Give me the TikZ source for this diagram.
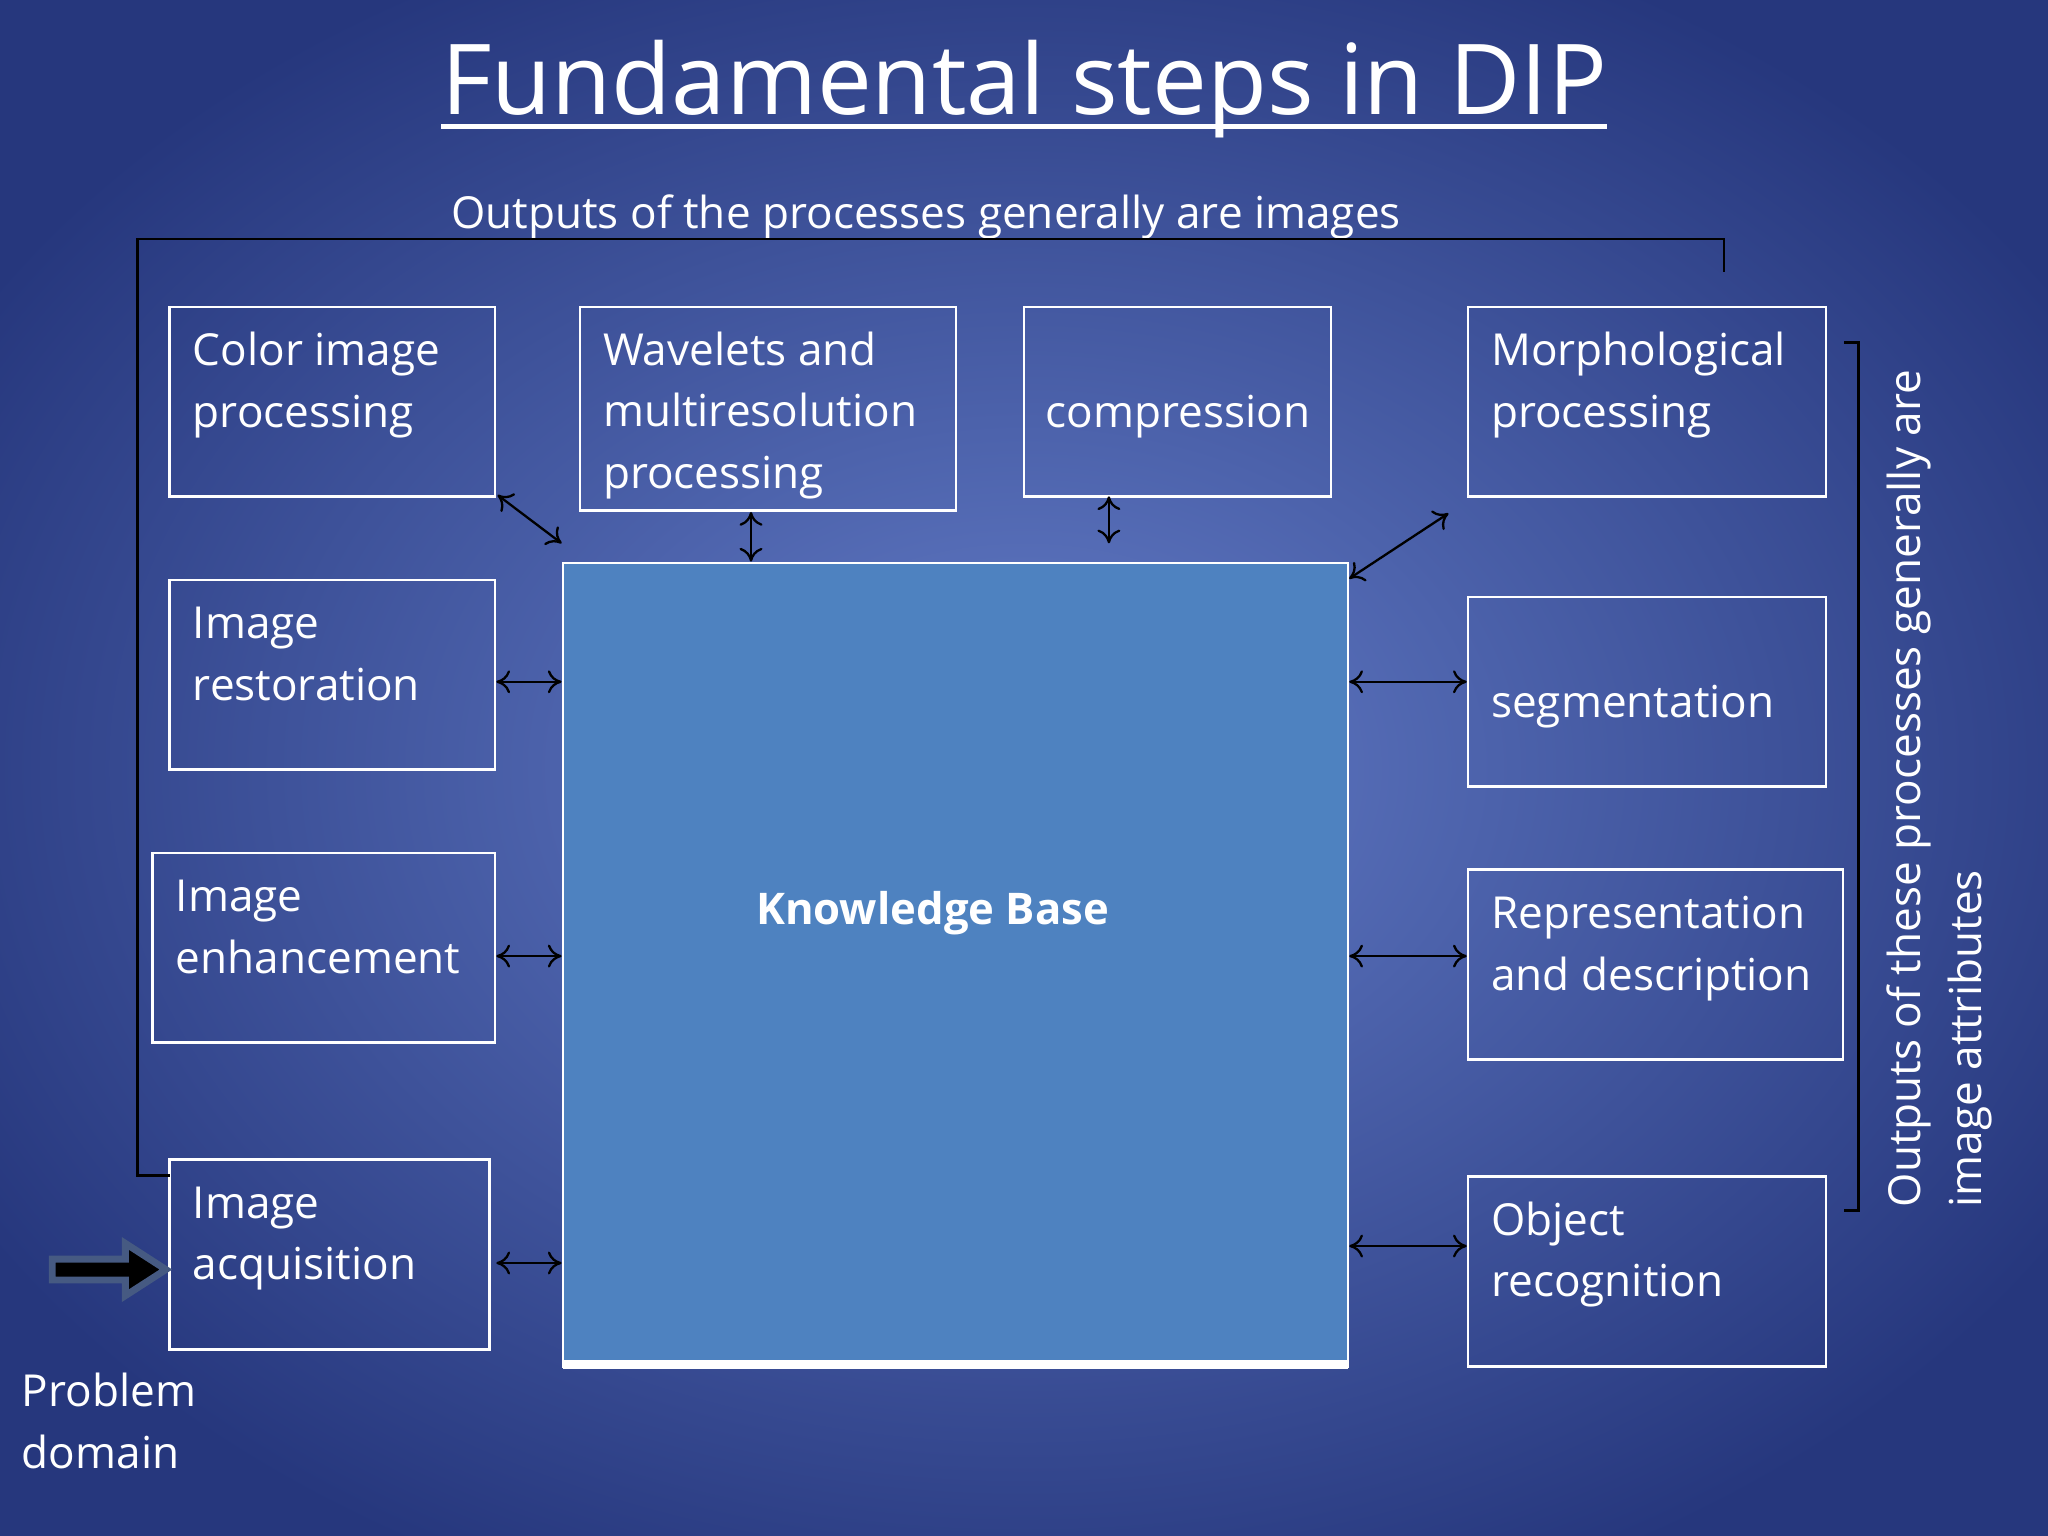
\documentclass[tikz,border=0pt]{standalone}
\usepackage{fontspec}
\setmainfont{Open Sans}
\usetikzlibrary{arrows.meta}
\begin{document}
\begin{tikzpicture}[x=0.01cm,y=-0.01cm,
  box/.style={draw=white,line width=0.6pt},
  txt/.style={text=white,anchor=base west,align=left,inner sep=0pt,font=\fontsize{9.6}{13.4}\selectfont},
  dbl/.style={{To[length=3pt,width=5pt]}-{To[length=3pt,width=5pt]},line width=0.5pt,black},
  brk/.style={black,line width=0.6pt}]
\useasboundingbox (0,0) rectangle (1568,1176);
\clip (0,0) rectangle (1568,1176);
\shade[inner color={rgb,255:red,100;green,125;blue,200},outer color={rgb,255:red,38;green,55;blue,125}] (-150,-100) rectangle (1718,1276);
% title
\node[text=white,anchor=base,inner sep=0pt,font=\fontsize{21.3}{26}\selectfont] (title) at (784,88) {Fundamental steps in DIP};
\draw[white,line width=1.1pt] (338,97) -- (1230,97);
\node[txt,anchor=base] (outimg) at (709,175) {Outputs of the processes generally are images};
% knowledge base
\filldraw[draw=white,line width=0.6pt,fill={rgb,255:red,78;green,130;blue,192}] (431,431) rectangle (1032,1046);
\draw[white,line width=2pt] (431,1045) -- (1032,1045);
\node[text=white,font=\fontsize{9.5}{12}\selectfont\bfseries] (kb) at (714,699) {Knowledge Base};
% boxes
\draw[box] (130,235) rectangle (379,380);
\draw[box] (444,235) rectangle (732,391);
\draw[box] (784,235) rectangle (1019,380);
\draw[box] (1124,235) rectangle (1398,380);
\draw[box] (130,444) rectangle (379,589);
\draw[box] (117,653) rectangle (379,798);
\draw[box] (130,888) rectangle (375,1033);
\draw[box] (1124,457) rectangle (1398,602);
\draw[box] (1124,666) rectangle (1411,811);
\draw[box] (1124,901) rectangle (1398,1046);
\node[txt] (t1) at (147,327) {Color image\\processing};
\node[txt] (t2) at (461,374) {Wavelets and\\multiresolution\\processing};
\node[txt] (t3) at (800,327) {compression};
\node[txt] (t4) at (1141,327) {Morphological\\processing};
\node[txt] (t5) at (147,536) {Image\\restoration};
\node[txt] (t6) at (134,745) {Image\\enhancement};
\node[txt] (t7) at (147,980) {Image\\acquisition};
\node[txt] (t8) at (1141,549) {segmentation};
\node[txt] (t9) at (1141,758) {Representation\\and description};
\node[txt] (t10) at (1141,993) {Object\\recognition};
\node[txt] (pd) at (16,1124) {Problem\\domain};
% arrows
\draw[dbl] (381,379) -- (430,416);
\draw[dbl] (575,392) -- (575,430);
\draw[dbl] (849,380) -- (849,416);
\draw[dbl] (1033,443) -- (1109,393);
\foreach \y in {522,732,967} \draw[dbl] (380,\y) -- (430,\y);
\foreach \y in {522,732,954} \draw[dbl] (1033,\y) -- (1123,\y);
% brackets
\draw[brk] (130,900) -- (105,900) -- (105,183) -- (1320,183) -- (1320,208);
\draw[brk] (1412,262) -- (1423,262) -- (1423,927) -- (1412,927);
\node[txt,rotate=90] (r1) at (1470,925) {Outputs of these processes generally are};
\node[txt,rotate=90] (r2) at (1517,925) {image attributes};
% problem arrow
\filldraw[fill=black,draw={rgb,255:red,70;green,90;blue,130},line width=1.5pt]
 (40,964) -- (96,964) -- (96,952) -- (127,972) -- (96,992) -- (96,980) -- (40,980) -- cycle;
\end{tikzpicture}
\end{document}
